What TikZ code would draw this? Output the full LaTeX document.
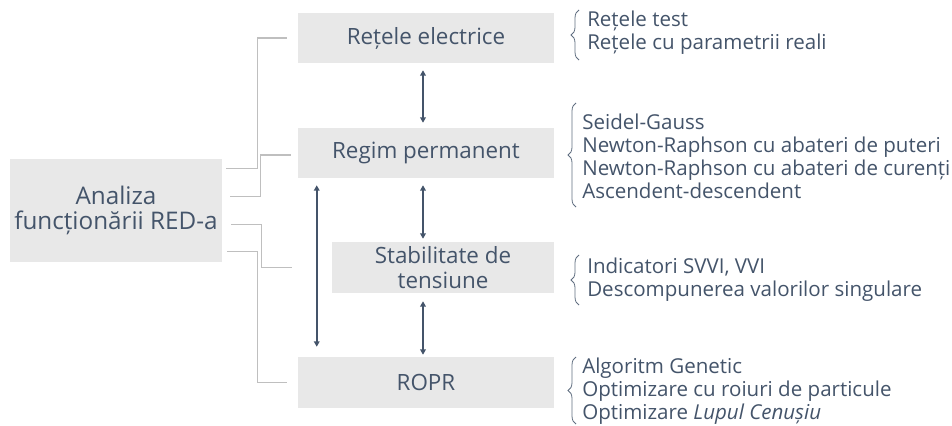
\documentclass[tikz,border=0pt]{standalone}
\usepackage{fontspec}
\setmainfont{Open Sans}
\usetikzlibrary{arrows.meta,calc,decorations.pathreplacing}
\definecolor{ink}{HTML}{44546A}
\definecolor{boxfill}{HTML}{E8E8E8}
\definecolor{linkgrey}{HTML}{BFBFBF}
\begin{document}
\begin{tikzpicture}[x=0.75pt,y=-0.75pt,
  box/.style={fill=boxfill, draw=none, text=ink, inner sep=0pt, align=center,
    font=\fontsize{16.8}{18.75}\selectfont},
  link/.style={draw=linkgrey, line width=0.9pt},
  dbl/.style={draw=ink, line width=1.25pt,
    {Triangle[length=4pt,width=4.2pt]}-{Triangle[length=4pt,width=4.2pt]}},
  lst/.style={text=ink, anchor=west, align=left, inner sep=0pt,
    font=\fontsize{15.4}{17.25}\selectfont},
  brc/.style={draw=ink!85, line width=0.6pt, decorate,
    decoration={brace, amplitude=6pt}}]
\useasboundingbox (0,0) rectangle (952,425);

% main boxes
\node[box, minimum width=159pt, minimum height=77.25pt,
  font=\fontsize{18.2}{18.75}\selectfont] (ana) at (116,210.5) {Analiza\\funcționării RED-a};
\node[box, minimum width=192pt, minimum height=37.5pt] (ret) at (426,38) {Rețele electrice};
\node[box, minimum width=192pt, minimum height=37.5pt] (reg) at (426,153) {Regim permanent};
\node[box, minimum width=166.5pt, minimum height=38.25pt] (sta) at (443,267.5) {Stabilitate de\\tensiune};
\node[box, minimum width=192pt, minimum height=38.25pt] (rop) at (426,382.5) {ROPR};

% elbow links from the analysis box
\draw[link] ($(ana.north east)+(4,10)$) -- ++(31,0) |- ($(ret.west)+(-11,0)$);
\draw[link] ($(ana.north east)+(8,38)$) -- ++(30,0) |- ($(reg.west)+(-7,2)$);
\draw[link] ($(ana.north east)+(9,66)$) -- ++(30,0) |- ($(sta.west)+(-40,0)$);
\draw[link] ($(ana.north east)+(5,93)$) -- ++(30,0) |- ($(rop.west)+(-11,0)$);

% two-way arrows between the stages
\draw[dbl] ($(ret.south)+(-3,7)$) -- ($(reg.north)+(-3,-5)$);
\draw[dbl] ($(reg.south)+(-3,7)$) -- ($(sta.north)+(-20,-3)$);
\draw[dbl] ($(sta.south)+(-20,8)$) -- ($(rop.north)+(-3,-2)$);
\draw[dbl] ($(reg.south west)+(19,7)$) -- ($(rop.north west)+(19,-10)$);

% method lists
\node[lst] (l1) at (587,32.5) {Rețele test\\Rețele cu parametrii reali};
\node[lst] (l2) at (582,156.5) {Seidel-Gauss\\Newton-Raphson cu abateri de puteri\\Newton-Raphson cu abateri de curenți\\Ascendent-descendent};
\node[lst] (l3) at (587,279.5) {Indicatori SVVI, VVI\\Descompunerea valorilor singulare};
\node[lst] (l4) at (582,391) {Algoritm Genetic\\Optimizare cu roiuri de particule\\Optimizare \textit{Lupul Cenușiu}};

% braces in front of the lists
\draw[brc] (579,60) -- (579,10);
\draw[brc] (576,207) -- (576,103);
\draw[brc] (579,305) -- (579,255);
\draw[brc] (576,424) -- (576,357);
\end{tikzpicture}
\end{document}
